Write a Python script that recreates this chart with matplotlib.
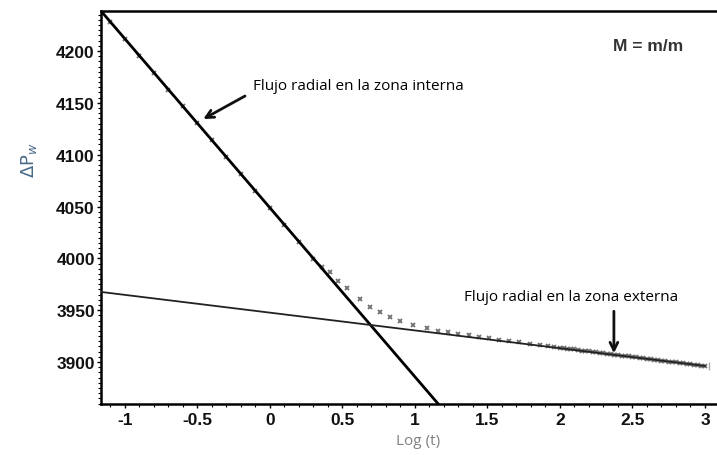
import matplotlib.pyplot as plt
from matplotlib.ticker import MultipleLocator

# puntos de la prueba (Log t vs delta p)
log_t = [-1.1, -1.0, -0.9, -0.8, -0.7, -0.6, -0.5, -0.4, -0.3, -0.2, -0.1, 0.0,
         0.1, 0.2, 0.3, 0.36, 0.414, 0.469, 0.531, 0.621, 0.690, 0.759, 0.828,
         0.897, 0.986, 1.083, 1.159, 1.23, 1.30, 1.37, 1.44, 1.51, 1.58, 1.65,
         1.72, 1.79, 1.86, 1.92, 1.96,
         2.000, 2.025, 2.050, 2.075, 2.100, 2.125, 2.150, 2.175, 2.200, 2.225,
         2.250, 2.275, 2.300, 2.325, 2.350, 2.375, 2.400, 2.425, 2.450, 2.475,
         2.500, 2.525, 2.550, 2.575, 2.600, 2.625, 2.650, 2.675, 2.700, 2.725,
         2.750, 2.775, 2.800, 2.825, 2.850, 2.875, 2.900, 2.925, 2.950, 2.975,
         3.000]
delta_p = [4228.0, 4211.7, 4195.4, 4179.1, 4162.8, 4146.5, 4130.2, 4113.9, 4097.6,
           4081.3, 4065.0, 4048.7, 4032.4, 4016.1, 3999.8, 3991.5, 3986.9, 3978.2,
           3971.5, 3960.8, 3953.1, 3948.3, 3943.5, 3939.6, 3935.8, 3932.9, 3930.0,
           3928.6, 3927.0, 3925.6, 3924.2, 3922.9, 3921.6, 3920.3, 3919.1, 3917.8,
           3916.5, 3915.4, 3914.7,
           3913.9, 3913.5, 3913.0, 3912.5, 3912.1, 3911.6, 3911.1, 3910.7, 3910.3,
           3909.9, 3909.3, 3908.9, 3908.5, 3908.1, 3907.6, 3907.1, 3906.7, 3906.2,
           3905.8, 3905.4, 3904.9, 3904.4, 3904.0, 3903.6, 3903.1, 3902.6, 3902.2,
           3901.8, 3901.3, 3900.9, 3900.5, 3900.0, 3899.6, 3899.2, 3898.8, 3898.3,
           3897.9, 3897.5, 3897.0, 3896.6, 3896.2]

# rectas semilog (zona interna / zona externa)
recta_int_x = [-1.165, 1.161]
recta_int_y = [4238.6, 3859.5]
recta_ext_x = [-1.165, 3.0]
recta_ext_y = [3967.6, 3896.2]

XTICKS = [-1, -0.5, 0, 0.5, 1, 1.5, 2, 2.5, 3]
XTICK_LABELS = ["-1", "-0.5", "0", "0.5", "1", "1.5", "2", "2.5", "3"]
YTICKS = [3900, 3950, 4000, 4050, 4100, 4150, 4200]

fig = plt.figure(figsize=(7.17, 4.56), dpi=100)
ax = fig.add_axes([0.1409, 0.1118, 0.8591, 0.8619])

ax.plot(log_t, delta_p, linestyle="none", marker="x", markersize=3.5,
        markeredgewidth=1.3, color="#707070", zorder=2)
ax.plot([3.03], [3896.5], linestyle="none", marker="|", markersize=6,
        color="#aaaaaa", zorder=2)
ax.plot(recta_int_x, recta_int_y, color="black", lw=2.0, zorder=3)
ax.plot(recta_ext_x, recta_ext_y, color="#222222", lw=1.3, zorder=3)

ax.set_xlim(-1.165, 3.083)
ax.set_ylim(3859.5, 4238.6)

ax.set_xticks(XTICKS)
ax.set_xticklabels(XTICK_LABELS)
ax.set_yticks(YTICKS)
ax.xaxis.set_minor_locator(MultipleLocator(0.1))
ax.yaxis.set_minor_locator(MultipleLocator(5))
ax.tick_params(which="major", direction="out", length=3, width=1,
               labelsize=12.5, pad=1.5)
ax.tick_params(which="minor", direction="out", length=2.5, width=0.8)
ax.tick_params(axis="x", which="major", pad=3)
for lab in ax.get_xticklabels() + ax.get_yticklabels():
    lab.set_fontweight("bold")
    lab.set_family("Liberation Sans")
    lab.set_color("#111111")

ax.spines["right"].set_visible(False)
for s in ["left", "bottom", "top"]:
    ax.spines[s].set_linewidth(1.8)

ax.set_xlabel("Log (t)", fontsize=11, color="#808080", family="Open Sans")
ax.xaxis.set_label_coords(0.515, -0.075)
ax.set_ylabel(r"$\Delta$P$_w$", fontsize=13, color="#4a6a88")
ax.yaxis.set_label_coords(-0.10, 0.623)

# flechas y textos
ax.text(-0.117, 4167, "Flujo radial en la zona interna", fontsize=11,
        family="Open Sans", va="center", ha="left")
ax.annotate("", xy=(-0.46, 4134.4), xytext=(-0.172, 4156.6),
            arrowprops=dict(arrowstyle="->", lw=2, color="#111111",
                            shrinkA=0, shrinkB=0, mutation_scale=14))
ax.text(2.08, 3963, "Flujo radial en la zona externa", fontsize=11,
        family="Open Sans", va="center", ha="center")
ax.annotate("", xy=(2.372, 3908.5), xytext=(2.372, 3949),
            arrowprops=dict(arrowstyle="->", lw=2, color="#111111",
                            shrinkA=0, shrinkB=0, mutation_scale=14))
ax.text(2.366, 4205, "M = m/m", fontsize=12.5, fontweight="bold",
        family="Liberation Sans", color="#333333", va="center")

fig.savefig("out.png", dpi=100)
